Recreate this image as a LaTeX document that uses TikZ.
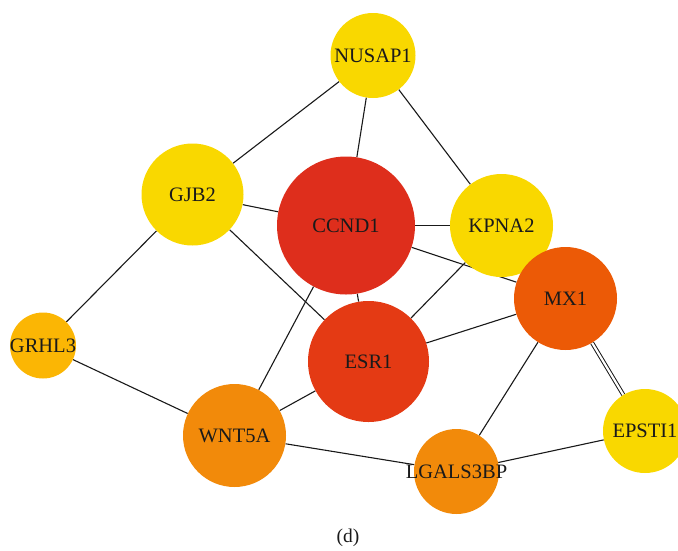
\documentclass[tikz,border=0pt]{standalone}
\usepackage{fontspec}
\setmainfont{Liberation Serif}
\usetikzlibrary{backgrounds}
\definecolor{cyel}{RGB}{249,216,0}
\definecolor{cred}{RGB}{222,46,28}
\definecolor{cesr}{RGB}{228,58,20}
\definecolor{cmx}{RGB}{236,90,6}
\definecolor{corg}{RGB}{242,138,10}
\definecolor{cgr}{RGB}{251,182,4}
\definecolor{ctxt}{RGB}{26,26,26}
\tikzset{
  gene/.style={circle, inner sep=0pt, minimum size=#1, text=ctxt,
    font=\fontsize{20.5}{22}\selectfont},
  link/.style={draw=black!90, line width=1.1pt},
  dlink/.style={draw=black!90, line width=1pt, double=white, double distance=2.2pt}
}
\newcommand{\gl}[1]{\makebox[0pt]{#1}}
\begin{document}
\begin{tikzpicture}[x=1pt,y=-1pt]
\useasboundingbox (0,0) rectangle (678,550);
\node[gene=85pt, fill=cyel] (nusap) at (373,55.5) {\gl{NUSAP1}};
\node[gene=102pt, fill=cyel] (gjb) at (192.5,194.5) {\gl{GJB2}};
\node[gene=103pt, fill=cyel] (kpna) at (501.5,225.5) {\gl{KPNA2}};
\node[gene=138pt, fill=cred] (ccnd) at (346,225.5) {\gl{CCND1}};
\node[gene=103pt, fill=cmx] (mx) at (565.5,298.5) {\gl{MX1}};
\node[gene=121pt, fill=cesr] (esr) at (368.5,361.5) {\gl{ESR1}};
\node[gene=66pt, fill=cgr] (grhl) at (43,345.5) {\gl{GRHL3}};
\node[gene=103pt, fill=corg] (wnt) at (234.5,435.5) {\gl{WNT5A}};
\node[gene=85pt, fill=corg] (lgals) at (456.5,471.5) {\gl{LGALS3BP}};
\node[gene=84pt, fill=cyel] (epsti) at (645,431) {\gl{EPSTI1}};
\node[text=ctxt, font=\fontsize{19.5}{22}\selectfont] (cap) at (348,538) {(d)};
\begin{scope}[on background layer]
\draw[link] (nusap) -- (gjb);
\draw[link] (nusap) -- (ccnd);
\draw[link] (nusap) -- (kpna);
\draw[link] (gjb) -- (ccnd);
\draw[link] (gjb) -- (esr);
\draw[link] (gjb) -- (grhl);
\draw[link] (ccnd) -- (kpna);
\draw[link] (ccnd) -- (esr);
\draw[link] (ccnd) -- (mx);
\draw[link] (ccnd) -- (wnt);
\draw[link] (kpna) -- (esr);
\draw[link] (mx) -- (esr);
\draw[dlink] (mx) -- (epsti);
\draw[link] (mx) -- (lgals);
\draw[link] (grhl) -- (wnt);
\draw[link] (wnt) -- (esr);
\draw[link] (wnt) -- (lgals);
\draw[link] (lgals) -- (epsti);
\end{scope}
\end{tikzpicture}
\end{document}
